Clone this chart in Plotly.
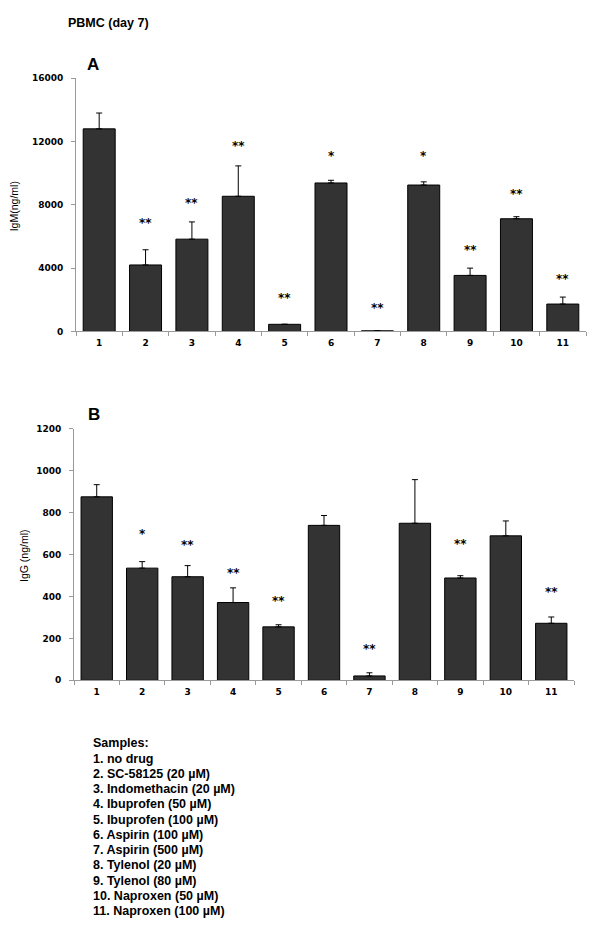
import plotly.graph_objects as go

# ---- data ----
samples = ["1", "2", "3", "4", "5", "6", "7", "8", "9", "10", "11"]

igm_mean = [12800, 4200, 5830, 8540, 450, 9380, 40, 9250, 3540, 7120, 1730]
igm_err = [1000, 960, 1090, 1920, 0, 170, 0, 200, 460, 130, 440]
igm_sig = ["", "**", "**", "**", "**", "*", "**", "*", "**", "**", "**"]
igm_sig_y = [0, 6880, 8120, 11700, 2120, 11080, 1500, 11080, 5120, 8700, 3290]

igg_mean = [875, 535, 494, 371, 255, 739, 21, 749, 488, 689, 272]
igg_err = [58, 31, 53, 70, 10, 47, 15, 208, 11, 71, 30]
igg_sig = ["", "*", "**", "**", "**", "", "**", "", "**", "", "**"]
igg_sig_y = [0, 697, 647, 513, 378, 0, 151, 0, 650, 0, 422]

igm_ticks = [0, 4000, 8000, 12000, 16000]
igg_ticks = [0, 200, 400, 600, 800, 1000, 1200]

legend_title = "Samples:"
legend_lines = [
    "1. no drug",
    "2. SC-58125 (20 µM)",
    "3. Indomethacin (20 µM)",
    "4. Ibuprofen (50 µM)",
    "5. Ibuprofen (100 µM)",
    "6. Aspirin (100 µM)",
    "7. Aspirin (500 µM)",
    "8. Tylenol (20 µM)",
    "9. Tylenol (80 µM)",
    "10. Naproxen (50 µM)",
    "11. Naproxen (100 µM)",
]

# ---- figure ----
W, H = 600, 927
def px_x(p):
    return p / W
def px_y(p):
    return 1 - p / H

BAR = "#333333"
AX = "#9a9a9a"
TICKFONT = dict(family="DejaVu Sans", size=9, color="black", weight="bold")
STARFONT = dict(family="DejaVu Sans", size=12, color="black", weight="bold")

fig = go.Figure()
fig.add_trace(go.Bar(
    x=samples, y=igm_mean, xaxis="x", yaxis="y",
    marker=dict(color=BAR, line=dict(color="black", width=1)),
    error_y=dict(type="data", array=igm_err, arrayminus=[0] * len(igm_err),
                 symmetric=False, color="black", thickness=1, width=3),
    showlegend=False,
))
fig.add_trace(go.Bar(
    x=samples, y=igg_mean, xaxis="x2", yaxis="y2",
    marker=dict(color=BAR, line=dict(color="black", width=1)),
    error_y=dict(type="data", array=igg_err, arrayminus=[0] * len(igg_err),
                 symmetric=False, color="black", thickness=1, width=3),
    showlegend=False,
))

xcommon = dict(type="category", tickson="boundaries", showgrid=False, zeroline=False,
               showline=True, linecolor=AX, linewidth=1, ticks="outside", ticklen=4,
               tickcolor=AX, tickfont=TICKFONT, ticklabelstandoff=3,
               range=[-0.5, len(samples) - 0.5])
ycommon = dict(showgrid=False, zeroline=False, showline=True, linecolor=AX, linewidth=1,
               ticks="outside", ticklen=4, tickcolor=AX, tickfont=TICKFONT,
               ticklabelstandoff=6, tickformat="d")

fig.update_layout(
    width=W, height=H,
    margin=dict(l=0, r=0, t=0, b=0),
    paper_bgcolor="white", plot_bgcolor="white",
    bargap=0.31,
    xaxis=dict(domain=[px_x(76), px_x(586)], anchor="y", **xcommon),
    yaxis=dict(domain=[px_y(330), px_y(74)], anchor="x", range=[0, 16000],
               tickvals=igm_ticks, **ycommon),
    xaxis2=dict(domain=[px_x(74), px_x(574)], anchor="y2", **xcommon),
    yaxis2=dict(domain=[px_y(682.7), px_y(428.3)], anchor="x2", range=[0, 1200],
                tickvals=igg_ticks, **ycommon),
)

ann = []
TXT = dict(family="Liberation Sans, Arial", color="black", weight="bold")
# significance stars (x given as category index)
for i, (lab, yy) in enumerate(zip(igm_sig, igm_sig_y)):
    if lab:
        ann.append(dict(x=i, y=yy, xref="x", yref="y", text=lab, showarrow=False,
                        font=STARFONT, yanchor="middle"))
for i, (lab, yy) in enumerate(zip(igg_sig, igg_sig_y)):
    if lab:
        ann.append(dict(x=i, y=yy, xref="x2", yref="y2", text=lab, showarrow=False,
                        font=STARFONT, yanchor="middle"))

# titles and panel letters
ann.append(dict(x=px_x(66), y=px_y(18), xref="paper", yref="paper", text="PBMC (day 7)",
                showarrow=False, xanchor="left", yanchor="middle", font=dict(size=12.5, **TXT)))
ann.append(dict(x=px_x(85), y=px_y(60), xref="paper", yref="paper", text="A",
                showarrow=False, xanchor="left", yanchor="middle", font=dict(size=17, **TXT)))
ann.append(dict(x=px_x(86), y=px_y(414), xref="paper", yref="paper", text="B",
                showarrow=False, xanchor="left", yanchor="middle", font=dict(size=17, **TXT)))
ann.append(dict(x=px_x(13.5), y=px_y(204), xref="paper", yref="paper", text="IgM(ng/ml)",
                showarrow=False, textangle=-90, xanchor="center", yanchor="middle",
                font=dict(family="Liberation Sans, Arial", size=10.5, color="black")))
ann.append(dict(x=px_x(24), y=px_y(557), xref="paper", yref="paper", text="IgG (ng/ml)",
                showarrow=False, textangle=-90, xanchor="center", yanchor="middle",
                font=dict(family="Liberation Sans, Arial", size=10.5, color="black")))

# sample legend
ann.append(dict(x=px_x(91), y=px_y(746), xref="paper", yref="paper", text=legend_title,
                showarrow=False, xanchor="left", yanchor="middle", font=dict(size=12.5, **TXT)))
for i, line in enumerate(legend_lines):
    ann.append(dict(x=px_x(91), y=px_y(762 + i * 15.4), xref="paper", yref="paper",
                    text=line, showarrow=False, xanchor="left", yanchor="middle",
                    font=dict(size=12.5, **TXT)))

fig.update_layout(annotations=ann)
fig.write_html("out.html", config=dict(displayModeBar=False),
               post_script="document.body.style.margin='0px';")
